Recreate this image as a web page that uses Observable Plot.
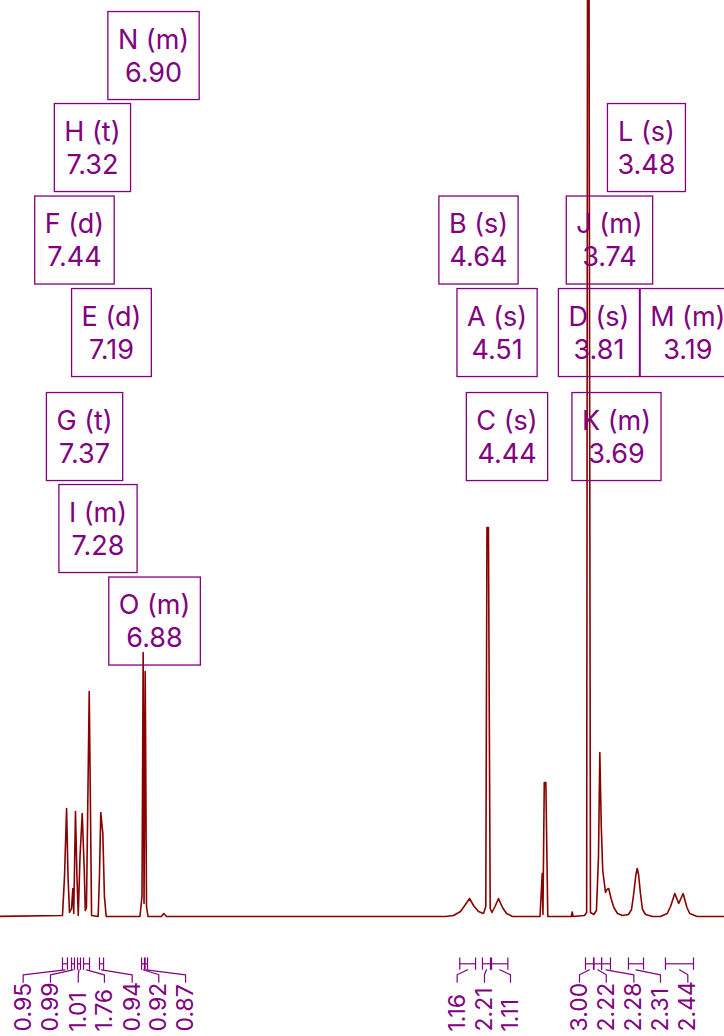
<!DOCTYPE html>
<html><head><meta charset="utf-8">
<script src="https://cdn.jsdelivr.net/npm/d3@7"></script>
<script src="https://cdn.jsdelivr.net/npm/@observablehq/plot@0.6"></script>
<style>html,body{margin:0;padding:0;background:#fff;} #chart svg{display:block;overflow:hidden}</style>
</head><body><div id="chart"></div>
<script>
// ---- spectrum trace (chemical shift in ppm, intensity) ----
const spectrumPpm = [7.900,7.418,7.404,7.390,7.380,7.370,7.356,7.347,7.341,7.329,7.319,7.310,7.298,7.283,7.269,7.262,7.254,7.235,7.219,7.174,7.165,7.156,7.142,7.131,7.119,
  6.888,6.874,6.866,6.860,6.852,6.843,6.833,6.741,6.725,6.706,
  4.798,4.743,4.695,4.661,4.633,4.606,4.572,4.538,4.522,4.514,4.504,4.492,4.480,4.459,4.435,4.408,4.380,4.339,
  4.151,4.136,4.131,4.122,4.111,4.098,3.937,3.931,3.925,
  3.847,3.832,3.8245,3.8185,3.806,3.783,3.765,3.751,3.742,3.732,3.722,3.703,3.693,3.681,3.665,3.646,3.621,3.587,
  3.546,3.525,3.509,3.495,3.486,3.477,3.464,3.450,3.429,3.382,
  3.327,3.281,3.258,3.229,3.202,3.172,3.146,3.127,3.076,2.850];
const spectrumIntensity = [0,1,40,108,40,4,8,28,3,105,40,1,60,103,46,6,9,225,1,0,40,104,83,20,0,
  0,20,264,13,245,10,0,0,3,0,
  0,1,5,12,18,11,5,3,10,389,389,8,4,10,18,9,3,0,
  0,43,2,134,134,0,0,4.5,0,
  1,4,1200,1200,4,2,6,60,164,90,46,24,27,28,18,9,3,1,
  2,7,24,42,48,42,23,7,2,0,
  0,3,10,23,13,23,9,3,0,0];

// ---- peak assignments ----
const peakLetters = ["N","H","F","E","G","I","O","B","A","C","L","J","D","M","K"];
const peakMultiplicity = ["m","t","d","d","t","m","m","s","s","s","s","m","s","m","m"];
const peakShift = ["6.90","7.32","7.44","7.19","7.37","7.28","6.88","4.64","4.51","4.44","3.48","3.74","3.81","3.19","3.69"];
// label placement (ppm of label centre, intensity level of label centre)
const labelPpm = [6.795,7.213,7.336,7.083,7.267,7.175,6.788,4.572,4.445,4.377,3.423,3.676,3.748,3.140,3.628];
const labelLevel = [862,770,677.5,585,481,389,296.5,677.5,585,481,770,677.5,585,585,481];

// ---- integrals ----
const integralValues = ["0.95","0.99","1.01","1.76","0.94","0.92","0.87","1.16","2.21","1.11","3.00","2.22","2.28","2.31","2.44"];
const integralFrom = [7.418,7.356,7.315,7.274,7.165,6.877,6.853,4.700,4.545,4.483,3.840,3.782,3.730,3.546,3.293];
const integralTo   = [7.384,7.336,7.295,7.233,7.137,6.857,6.836,4.592,4.490,4.371,3.785,3.730,3.669,3.443,3.101];
const integralLabelPpm = [7.687,7.500,7.310,7.131,6.941,6.759,6.576,4.718,4.531,4.353,3.881,3.698,3.509,3.327,3.140];

const spectrum = spectrumPpm.map((p, i) => ({ppm: p, intensity: spectrumIntensity[i]}));
const labels = peakLetters.map((l, i) => ({text: `${l} (${peakMultiplicity[i]})\n${peakShift[i]}`, ppm: labelPpm[i], level: labelLevel[i]}));
const integrals = integralValues.map((v, i) => ({v, a: integralFrom[i], b: integralTo[i], c: (integralFrom[i] + integralTo[i]) / 2, lp: integralLabelPpm[i]}));
const connectors = integrals.flatMap((d, i) => [
  {k: i, ppm: d.c, y: -53.3},
  {k: i, ppm: d.lp, y: -58.3},
  {k: i, ppm: d.lp, y: -65.7}
]);

const purple = "#800080";
const red = "#880000";

const chart = Plot.plot({
  width: 724,
  height: 1036,
  marginTop: 0, marginBottom: 0, marginLeft: 0, marginRight: 0,
  x: {domain: [7.842, 2.889], axis: null},
  y: {domain: [-120, 916], axis: null},
  style: {background: "#fff"},
  marks: [
    Plot.line(spectrum, {x: "ppm", y: "intensity", stroke: red, strokeWidth: 1.6, clip: true}),
    Plot.link(integrals, {x1: "a", x2: "b", y1: -47.3, y2: -47.3, stroke: purple, strokeWidth: 1.2}),
    Plot.link(integrals, {x1: "a", x2: "a", y1: -41, y2: -53.3, stroke: purple, strokeWidth: 1.2}),
    Plot.link(integrals, {x1: "b", x2: "b", y1: -41, y2: -53.3, stroke: purple, strokeWidth: 1.2}),
    Plot.line(connectors, {x: "ppm", y: "y", z: "k", stroke: purple, strokeWidth: 1.2}),
    Plot.text(integrals, {x: "lp", y: -115, text: "v", rotate: -90, textAnchor: "start", lineAnchor: "middle",
      fill: purple, fontSize: 23, fontFamily: "Inter"}),
    Plot.text(labels, {x: "ppm", y: "level", text: "text", fill: purple, fontSize: 27, lineHeight: 1.22,
      fontFamily: "Inter", lineAnchor: "middle", className: "peak-labels"})
  ]
});

document.getElementById("chart").append(chart);

// draw boxes around the peak labels
const svgRect = chart.getBoundingClientRect();
chart.querySelectorAll("g.peak-labels text").forEach(t => {
  const b = t.getBoundingClientRect();
  const cx = b.left - svgRect.left + b.width / 2;
  const cy = b.top - svgRect.top + b.height / 2;
  const w = b.width + 20, h = 88;
  const r = document.createElementNS("http://www.w3.org/2000/svg", "rect");
  r.setAttribute("x", cx - w / 2);
  r.setAttribute("y", cy - h / 2);
  r.setAttribute("width", w);
  r.setAttribute("height", h);
  r.setAttribute("fill", "none");
  r.setAttribute("stroke", purple);
  r.setAttribute("stroke-width", 1.3);
  chart.append(r);
});
</script>
</body></html>
